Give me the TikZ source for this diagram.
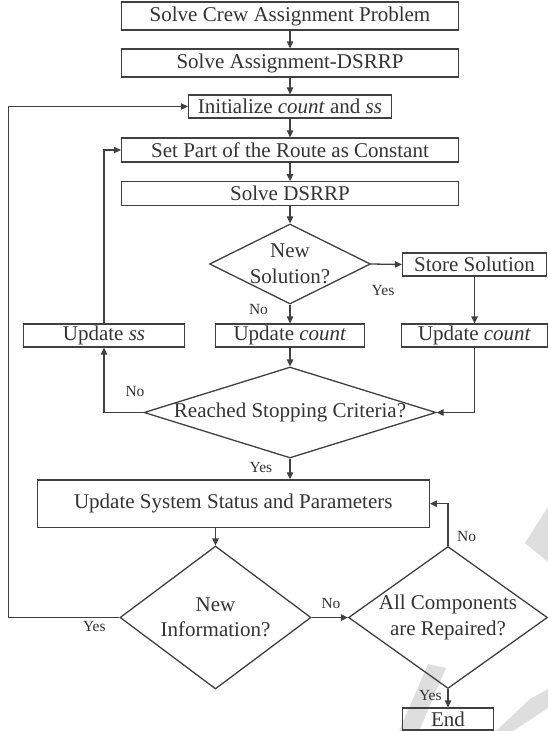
\documentclass[tikz,border=0pt]{standalone}
\usepackage{fontspec}
\setmainfont{Liberation Serif}
\usetikzlibrary{arrows.meta,shapes.geometric,calc}
\begin{document}
\begin{tikzpicture}[x=1pt,y=-1pt,
  line width=1.3pt,
  every node/.style={text=black!80},
  flow/.style={draw=black!75, -{Triangle[length=7pt,width=6.5pt]}},
  box/.style={draw=black!75, rectangle, inner sep=0pt, font=\fontsize{21}{25.5}\selectfont},
  dia/.style={draw=black!75, diamond, inner sep=0pt},
  dtext/.style={font=\fontsize{21}{25.5}\selectfont, align=center, inner sep=0pt},
  lbl/.style={font=\fontsize{15.5}{18}\selectfont, inner sep=0pt},
  wm/.style={fill=black!13, draw=none}]
\useasboundingbox (0,0) rectangle (548,731);
% watermark stripes
\fill[wm] (548,507) -- (525,543) -- (548,562) -- cycle;
\fill[wm] (428,664) -- (446,668) -- (419,731) -- (399,731) -- cycle;
\fill[wm] (530,699) -- (548,689) -- (548,708) -- (513,731) -- (496,731) -- cycle;
% boxes
\node[box, minimum width=337pt, minimum height=28pt] (b1) at (290,16) {Solve Crew Assignment Problem};
\node[box, minimum width=337pt, minimum height=28pt] (b2) at (290,63) {Solve Assignment-DSRRP};
\node[box, minimum width=203pt, minimum height=23pt] (b3) at (290,106.5) {Initialize \textit{count} and \textit{ss}};
\node[box, minimum width=337pt, minimum height=24pt] (b4) at (290,150) {Set Part of the Route as Constant};
\node[box, minimum width=337pt, minimum height=23.5pt] (b5) at (290,193.5) {Solve DSRRP};
\node[dia, minimum width=161pt, minimum height=80pt] (d1) at (290,264) {};
\node[dtext] (t1) at (d1) {New\\Solution?};
\node[box, minimum width=144pt, minimum height=23pt] (store) at (474.5,264.5) {Store Solution};
\node[box, minimum width=161pt, minimum height=23pt] (uss) at (104,335.5) {Update \textit{ss}};
\node[box, minimum width=149pt, minimum height=23pt] (uc1) at (290,335.5) {Update \textit{count}};
\node[box, minimum width=146pt, minimum height=23pt] (uc2) at (474.5,335.5) {Update \textit{count}};
\node[dia, minimum width=292pt, minimum height=91pt] (d2) at (290,412.5) {};
\node[dtext] (t2) at (d2) {Reached Stopping Criteria?};
\node[box, minimum width=392pt, minimum height=47.5pt] (usys) at (233.3,503.7) {Update System Status and Parameters};
\node[dia, minimum width=191pt, minimum height=143pt] (d3) at (215.5,617.5) {};
\node[dtext] (t3) at (d3) {New\\Information?};
\node[dia, minimum width=199pt, minimum height=142pt] (d4) at (448,617.5) {};
\node[dtext] (t4) at (d4) {All Components\\are Repaired?};
\node[box, minimum width=91pt, minimum height=22pt] (end) at (448,719) {End};
\coordinate (L) at (8.7,617.5);
% connectors
\draw[flow] (b1.south) -- (b2.north);
\draw[flow] (b2.south) -- (b3.north);
\draw[flow] (b3.south) -- (b4.north);
\draw[flow] (b4.south) -- (b5.north);
\draw[flow] (b5.south) -- (d1.north);
\draw[flow] (d1.east) -- (store.west);
\draw[flow] (d1.south) -- (uc1.north);
\draw[flow] (store.south) -- (uc2.north);
\draw[flow] (uc1.south) -- (d2.north);
\draw[flow] (uc2.south) |- (d2.east);
\draw[flow] (d2.west) -| (uss.south);
\draw[flow] (uss.north) |- (b4.west);
\draw[flow] (d2.south) -- (d2.south |- usys.north);
\draw[flow] (d3.north |- usys.south) -- (d3.north);
\draw[flow] (d3.west) -- (L) |- (b3.west);
\draw[flow] (d3.east) -- (d4.west);
\draw[flow] (d4.north) |- (usys.east);
\draw[flow] (d4.south) -- (end.north);
% labels
\node[lbl] (l1) at (383,290) {Yes};
\node[lbl] (l2) at (258.5,309) {No};
\node[lbl] (l3) at (135,391.7) {No};
\node[lbl] (l4) at (261,467) {Yes};
\node[lbl] (l5) at (94.3,626.7) {Yes};
\node[lbl] (l6) at (331,603.3) {No};
\node[lbl] (l7) at (466.7,536.7) {No};
\node[lbl] (l8) at (430.3,695) {Yes};
\end{tikzpicture}
\end{document}
